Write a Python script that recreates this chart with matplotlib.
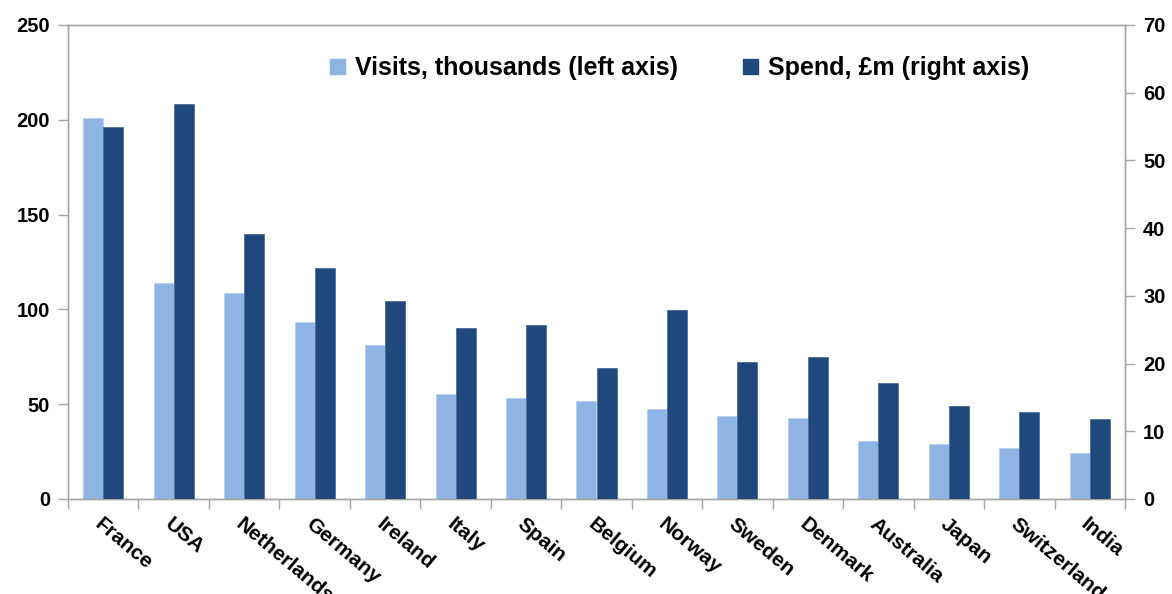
import numpy as np
import matplotlib
matplotlib.use("Agg")
import matplotlib.pyplot as plt
from matplotlib.patches import Patch

plt.rcParams['font.family'] = ['Liberation Sans', 'DejaVu Sans']
plt.rcParams['font.weight'] = 'bold'

# data
countries = ['France', 'USA', 'Netherlands', 'Germany', 'Ireland', 'Italy', 'Spain',
             'Belgium', 'Norway', 'Sweden', 'Denmark', 'Australia', 'Japan',
             'Switzerland', 'India']
visits = [201, 114, 108.5, 93.5, 81, 55.4, 53.1, 51.8, 47.3, 43.6, 42.9, 30.7, 29.0, 26.7, 24.4]
spend = [55.0, 58.4, 39.1, 34.1, 29.3, 25.2, 25.7, 19.4, 27.9, 20.3, 21.0, 17.1, 13.8, 12.9, 11.8]

light = '#8EB4E3'
dark = '#1F497D'
grey = '#A6A6A6'

fig = plt.figure(figsize=(11.72, 5.94), dpi=100)
ax = fig.add_axes([68 / 1172, 1 - 499 / 594, (1125 - 68) / 1172, (499 - 25) / 594])
ax2 = ax.twinx()

x = np.arange(len(countries))
w = 0.284
ax.bar(x - w / 2, visits, w, color=light, edgecolor='#B8CFEA', linewidth=0.6, zorder=3)
ax2.bar(x + w / 2, spend, w, color=dark, edgecolor='#4F6F99', linewidth=0.6, zorder=3)

ax.set_xlim(-0.5, len(countries) - 0.5)
ax.set_ylim(0, 250)
ax2.set_ylim(0, 70)
ax.set_yticks(range(0, 251, 50))
ax2.set_yticks(range(0, 71, 10))

# category labels at centres, tick marks at the boundaries
ax.set_xticks(x)
ax.set_xticklabels(countries, rotation=-40, ha='left', va='top',
                   rotation_mode='anchor', fontsize=15, fontweight='bold')
ax.tick_params(axis='x', which='major', length=0, pad=11)
ax.set_xticks(np.arange(-0.5, len(countries), 1), minor=True)
ax.tick_params(axis='x', which='minor', length=7, width=1, color=grey, direction='out')

for a in (ax, ax2):
    for s in a.spines.values():
        s.set_color(grey)
        s.set_linewidth(1)
    a.tick_params(axis='y', length=7, width=1, color=grey, labelsize=14.5, pad=6)

for lab in ax.get_yticklabels() + ax2.get_yticklabels():
    lab.set_fontweight('bold')

handles = [Patch(color=light, label='Visits, thousands (left axis)'),
           Patch(color=dark, label='Spend, £m (right axis)')]
fig.legend(handles=handles, loc='center', bbox_to_anchor=(0.58, 0.885), ncol=2,
           frameon=False, prop={'size': 18, 'weight': 'bold'},
           handlelength=0.6, handleheight=0.6, handletextpad=0.4, columnspacing=2.6)

fig.savefig('out.png', dpi=100)
